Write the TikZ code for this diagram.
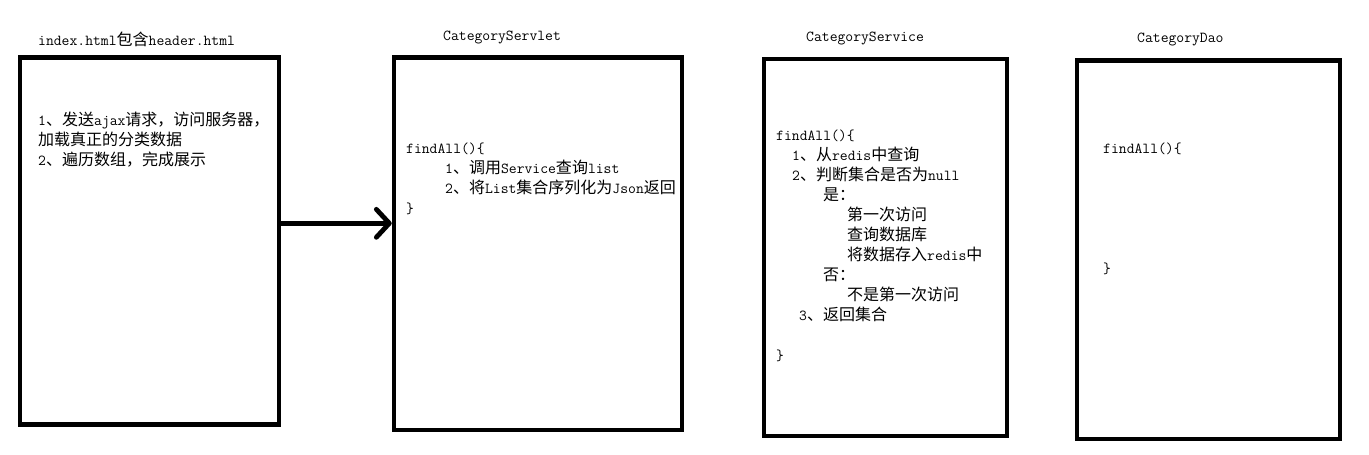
\documentclass[tikz,border=0pt]{standalone}
\usepackage{fontspec}
\newfontfamily\cjk{Noto Sans CJK SC}[Scale=1.05]
\usetikzlibrary{arrows.meta}
\newcommand\zh[1]{{\cjk #1}}
\newcommand\st{\vrule height14pt depth6pt width0pt}
\begin{document}
\begin{tikzpicture}[x=1pt,y=-1pt,
  box/.style={draw=black,line width=4.5pt,rectangle,inner sep=0pt},
  txt/.style={anchor=north west,inner sep=0pt,align=left,
    font={\ttfamily\fontsize{15.24pt}{20pt}\selectfont}},
  arrowline/.style={line width=4.8pt,
    -{Straight Barb[length=13pt,width=28pt,line cap=round,line join=round]}}]
\useasboundingbox[fill=white] (0,0) rectangle (1369,455);
% boxes
\node[box,minimum width=259pt,minimum height=367pt] (b1) at (149.5,241) {};
\node[box,minimum width=288pt,minimum height=372.5pt] (b2) at (538,243.75) {};
\node[box,minimum width=243pt,minimum height=377pt] (b3) at (885.5,247.5) {};
\node[box,minimum width=263pt,minimum height=378.5pt] (b4) at (1208.5,249.75) {};
% titles
\node[txt] (t1) at (38,31) {\st index.html\zh{包含}header.html};
\node[txt] (t2) at (443,26) {\st CategoryServlet};
\node[txt] (t3) at (806,27) {\st CategoryService};
\node[txt] (t4) at (1137,28) {\st CategoryDao};
% box contents
\node[txt] (c1) at (38,111) {\st 1\zh{、发送}ajax\zh{请求，访问服务器，}\\
\st\zh{加载真正的分类数据}\\
\st 2\zh{、遍历数组，完成展示}};
\node[txt] (c2) at (406,139) {\st findAll()\{\\
\st\hspace*{39pt}1\zh{、调用}Service\zh{查询}list\\
\st\hspace*{39pt}2\zh{、将}List\zh{集合序列化为}Json\zh{返回}\\
\st\}};
\node[txt] (c3) at (776,126) {\st findAll()\{\\
\st\hspace*{16pt}1\zh{、从}redis\zh{中查询}\\
\st\hspace*{16pt}2\zh{、判断集合是否为}null\\
\st\hspace*{47pt}\zh{是：}\\
\st\hspace*{71pt}\zh{第一次访问}\\
\st\hspace*{71pt}\zh{查询数据库}\\
\st\hspace*{71pt}\zh{将数据存入}redis\zh{中}\\
\st\hspace*{47pt}\zh{否：}\\
\st\hspace*{71pt}\zh{不是第一次访问}\\
\st\hspace*{23pt}3\zh{、返回集合}\\
\st\\
\st\}};
\node[txt] (c4) at (1103,139) {\st findAll()\{\\
\st\\ \st\\ \st\\ \st\\ \st\\
\st\}};
% connector
\draw[arrowline] ([yshift=17.7pt]b1.east) -- ([yshift=17.7pt]b1.east -| b2.west);
\end{tikzpicture}
\end{document}
